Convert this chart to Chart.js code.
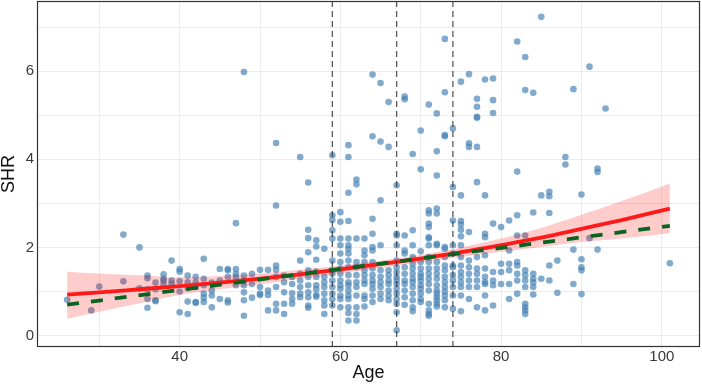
<!DOCTYPE html>
<html><head><meta charset="utf-8">
<script src="https://cdn.jsdelivr.net/npm/chart.js@4.4.0/dist/chart.umd.min.js"></script>
<style>html,body{margin:0;padding:0;background:#fff;overflow:hidden}</style>
</head><body>
<canvas id="c" width="702" height="384"></canvas>
<script>
// ---- data ----
const ages = [26,29,30,33,35,36,37,38,39,40,41,42,43,44,45,46,47,48,49,50,51,52,53,54,55,56,57,58,59,60,61,62,63,64,65,66,67,68,69,70,71,72,73,74,75,76,77,78,79,80,81,82,83,84,85,86,87,88,89,90,91,92,93,101];
const shrByAge = [
 [0.81],[0.57],[1.11],[2.29,1.23],[2.00,1.07],
 [1.36,1.30,1.05,0.83,0.63],[1.20,1.05,0.80,0.78],[1.39,1.29,1.25,1.17],[1.70,1.25,1.18],
 [1.51,1.45,1.23,1.00,0.53],[1.36,1.21,1.08,0.77,0.49],[1.33,1.20,1.10,0.76,0.74],
 [1.74,1.29,1.14,0.95,0.86,0.76],[1.20,1.02,0.91,0.64],[1.51,1.25,0.83],
 [1.51,1.48,1.33,0.80,0.75],[2.55,1.51,1.40,1.33,1.14],[5.98,1.36,1.25,1.14,0.98,0.80,0.45],
 [1.40,1.17,0.86],[1.49,1.10,0.95,0.92],[1.49,1.02,0.92,0.57],
 [4.37,2.95,1.59,1.49,1.33,1.10,0.72,0.57],[1.36,1.21,0.98,0.72,0.49],[1.33,1.17,0.96,0.83,0.72],
 [4.05,1.70,1.40,1.25,1.10,0.95,0.87],
 [3.47,2.40,2.21,1.89,1.48,1.33,1.14,0.98,0.87,0.68,0.63],
 [2.16,2.02,1.72,1.45,1.33,1.14,1.05,0.92,0.88],
 [1.97,1.33,1.21,1.10,0.95,0.80,0.68,0.49],
 [4.09,2.73,2.62,2.39,2.20,1.70,1.48,1.40,1.25,1.10,0.95,0.83,0.68],
 [2.80,2.58,2.20,2.05,1.86,1.67,1.52,1.40,1.25,1.14,1.06,0.91,0.83,0.64],
 [4.32,4.05,3.24,2.60,2.20,2.05,1.97,1.86,1.70,1.55,1.37,1.21,1.14,1.02,0.91,0.83,0.64,0.51,0.34],
 [3.54,3.43,2.20,1.67,1.55,1.37,1.21,1.10,0.91,0.64,0.49,0.34],
 [2.20,1.93,1.82,1.67,1.48,1.37,1.25,1.17,0.91,0.83,0.66],
 [5.92,4.52,2.65,2.31,2.01,1.93,1.67,1.52,1.37,1.25,1.17,1.06,0.91,0.76],
 [5.73,4.40,3.07,2.05,1.48,1.33,1.21,1.10,0.95,0.83],
 [5.30,4.28,1.48,1.37,1.25,1.17,1.02,0.91,0.80],
 [3.41,2.31,2.27,2.05,1.70,1.55,1.44,1.33,1.25,1.17,1.06,0.95,0.83,0.72,0.53,0.12],
 [5.42,5.36,2.27,1.93,1.86,1.55,1.40,1.25,1.17,1.02,0.87,0.70],
 [4.12,2.39,2.05,1.78,1.63,1.52,1.40,1.29,1.21,1.10,0.95,0.80,0.64,0.55],
 [4.65,3.77,1.91,1.67,1.52,1.40,1.33,1.25,1.14,1.06,0.95,0.83,0.76],
 [5.24,2.84,2.77,2.54,2.46,2.23,2.20,2.05,1.78,1.67,1.52,1.40,1.29,1.17,1.02,0.72,0.57,0.49,0.45],
 [5.04,4.18,3.63,2.88,2.77,2.08,2.05,1.67,1.52,1.40,1.29,1.14,1.02,0.95,0.87,0.80,0.72,0.66],
 [6.73,5.52,4.55,4.52,2.01,1.97,1.78,1.59,1.48,1.33,1.21,1.10,1.00,0.91,0.80,0.64],
 [4.70,3.37,2.61,2.05,1.86,1.59,1.55,1.37,1.25,1.10,0.91,0.61],
 [5.76,3.18,2.60,2.52,2.40,2.25,2.05,1.78,1.59,1.44,1.33,1.21,1.10,0.91,0.55],
 [5.93,4.36,4.28,2.35,1.70,1.55,1.40,1.25,1.10,0.83],
 [5.37,5.19,4.96,4.94,4.28,3.48,1.78,1.52,1.40,1.25,1.10,0.64],
 [5.81,3.18,2.31,2.23,1.82,1.52,1.33,1.21,1.17,0.91,0.57],
 [5.83,5.34,5.05,2.54,1.44,1.25,1.14,0.68],
 [2.46,1.63,1.44,1.17],
 [2.61,1.93,1.63,1.48,1.17,0.83],
 [6.67,3.72,2.73,2.27,1.67,1.59,1.40,1.25,0.95],
 [6.32,5.57,2.27,1.48,1.37,1.25,1.10,0.72,0.64,0.57,0.49],
 [5.51,2.79,1.40,1.29,1.21,1.10,0.93],
 [7.23,3.18,1.29],
 [3.26,3.16,2.78,1.59,1.25],
 [1.70,0.97],[4.05,3.88],[5.59,1.95,1.17],[3.20,1.73,1.55,1.48,0.94],
 [6.10,2.21],[3.79,3.71,1.95],[5.15],[1.64]
];
// fitted curve (red) with confidence band, and linear fit (green dashed)
const fitAge = [26,30,35,40,45,50,55,60,67,74,80,85,90,95,101];
const fitSHR = [0.93,0.98,1.05,1.12,1.20,1.29,1.39,1.50,1.67,1.86,2.05,2.22,2.42,2.62,2.88];
const ciLow  = [0.38,0.54,0.73,0.92,1.05,1.17,1.29,1.41,1.59,1.76,1.90,2.01,2.12,2.20,2.32];
const ciHigh = [1.45,1.41,1.37,1.32,1.35,1.41,1.49,1.59,1.75,1.96,2.20,2.44,2.74,3.05,3.45];
const linAge = [26,101];
const linSHR = [0.70,2.49];
const vlineAges = [59,67,74];
const xTickValues = [30,40,50,60,70,80,90,100];
const xTickLabels = [40,60,80,100];
const yTickValues = [0,1,2,3,4,5,6,7];
const yTickLabels = [0,2,4,6];
const xRange = [22.25,104.75];
const yRange = [-0.26,7.59];

// ---- build datasets ----
const pts = [];
ages.forEach((a,i)=>shrByAge[i].forEach(v=>pts.push({x:a,y:v})));
const zip = (xs,ys)=>xs.map((x,i)=>({x:x,y:ys[i]}));
const FONT = "'Liberation Sans', Arial, sans-serif";

const datasets = [
 {type:'scatter',data:pts,backgroundColor:'rgba(70,130,180,0.68)',borderWidth:0,pointRadius:3.3,order:6},
 {type:'line',data:zip(fitAge,ciLow),borderWidth:0,pointRadius:0,fill:false,order:5,cubicInterpolationMode:'monotone'},
 {type:'line',data:zip(fitAge,ciHigh),borderWidth:0,pointRadius:0,fill:'-1',backgroundColor:'rgba(255,0,0,0.2)',order:5,cubicInterpolationMode:'monotone'},
 {type:'line',data:zip(fitAge,fitSHR),borderColor:'#ff1a1a',borderWidth:3.8,pointRadius:0,fill:false,order:3,cubicInterpolationMode:'monotone'},
 {type:'line',data:zip(linAge,linSHR),borderColor:'#0b6322',borderWidth:3.8,borderDash:[12,12],pointRadius:0,fill:false,order:2}
];
vlineAges.forEach(a=>datasets.push({type:'line',data:[{x:a,y:yRange[0]},{x:a,y:yRange[1]}],borderColor:'rgba(60,60,60,0.85)',borderWidth:1.3,borderDash:[6,4],pointRadius:0,fill:false,order:1}));

const panel = {
 id:'panel',
 beforeDraw(c){const x=c.ctx;x.save();x.fillStyle='#fff';x.fillRect(0,0,c.width,c.height);x.restore();},
 afterDraw(c){const a=c.chartArea,x=c.ctx;x.save();x.strokeStyle='#333';x.lineWidth=1.2;
   x.strokeRect(a.left+0.5,a.top+0.5,a.right-a.left-1,a.bottom-a.top-1);x.restore();}
};

new Chart(document.getElementById('c'),{
 type:'scatter',
 data:{datasets},
 options:{
  responsive:false,animation:false,
  layout:{autoPadding:false,padding:{top:1,right:2,left:0,bottom:0}},
  plugins:{legend:{display:false},tooltip:{enabled:false}},
  scales:{
   x:{type:'linear',min:xRange[0],max:xRange[1],
      afterBuildTicks:s=>{s.ticks=xTickValues.map(v=>({value:v}));},
      afterFit:s=>{s.height=37;s.paddingLeft=0;s.paddingRight=0;},
      ticks:{autoSkip:false,maxRotation:0,padding:2,color:'#3a3a3a',
             font:{family:FONT,size:15,lineHeight:1},
             callback:v=>xTickLabels.includes(v)?String(v):''},
      grid:{color:'#ebebeb',lineWidth:1,drawTicks:false},
      border:{display:false},
      title:{display:true,text:'Age',color:'#111',font:{family:FONT,size:18,lineHeight:1},padding:{top:0,bottom:2}}},
   y:{type:'linear',min:yRange[0],max:yRange[1],
      afterBuildTicks:s=>{s.ticks=yTickValues.map(v=>({value:v}));},
      afterFit:s=>{s.width=37;s.paddingTop=0;s.paddingBottom=0;},
      ticks:{autoSkip:false,padding:3,color:'#3a3a3a',
             font:{family:FONT,size:15,lineHeight:1},
             callback:v=>yTickLabels.includes(v)?String(v):''},
      grid:{color:'#ebebeb',lineWidth:1,drawTicks:false},
      border:{display:false},
      title:{display:true,text:'SHR',color:'#111',font:{family:FONT,size:18,lineHeight:1},padding:{top:0,bottom:0}}}
  }
 },
 plugins:[panel]
});
</script>
</body></html>
